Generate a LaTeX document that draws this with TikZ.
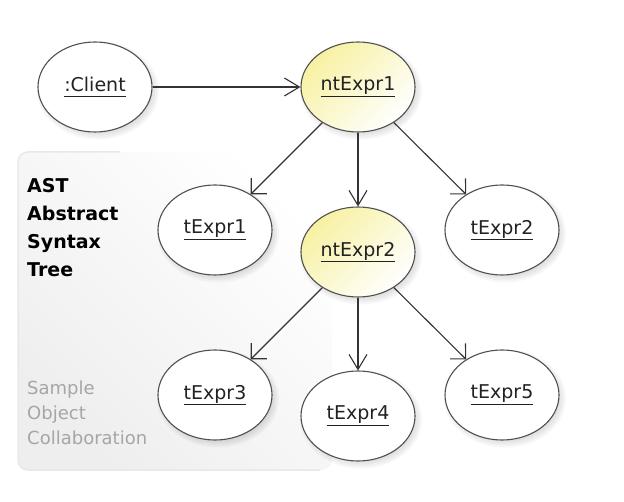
\documentclass[tikz,border=0pt]{standalone}
\usepackage{fontspec}
\setmainfont{DejaVu Sans}
\usetikzlibrary{shapes.geometric,arrows.meta}
\definecolor{edgec}{HTML}{505050}
\definecolor{yel}{HTML}{F7F1A2}
\definecolor{txtc}{HTML}{222222}
\definecolor{subc}{HTML}{A6A6A6}
\definecolor{panelc}{HTML}{EEEEEE}
\definecolor{panelb}{HTML}{E8E8E8}
\definecolor{linec}{HTML}{333333}
\pgfdeclarelayer{bglayer}
\pgfdeclarelayer{shlayer}
\pgfsetlayers{bglayer,shlayer,main}
\begin{document}
\begin{tikzpicture}[x=1pt,y=-1pt,
  obj/.style={ellipse, draw=edgec, line width=1.1pt, minimum width=114pt,
    minimum height=90pt, inner sep=0pt, fill=white, text=txtc,
    font=\fontsize{19}{23}\selectfont},
  hot/.style={obj, top color=yel, bottom color=white, shading angle=45},
  shadowpart/.style={fill=black, opacity=0.03},
  conn/.style={draw=linec, line width=1.1pt},
  diagtip/.style={conn, -{Straight Barb[length=11pt,width=22pt]}},
  strtip/.style={conn, line width=1.4pt, -{Straight Barb[length=15pt,width=18pt,line width=1.1pt]}},
  boldtxt/.style={anchor=base west, inner sep=0pt, text=black, font=\bfseries\fontsize{19}{23}\selectfont},
  greytxt/.style={anchor=base west, inner sep=0pt, text=subc, font=\fontsize{18}{22}\selectfont}
]
\useasboundingbox (0,0) rectangle (624,502);
% panel
\begin{pgfonlayer}{bglayer}
\shade[rounded corners=10pt, shading=axis, top color=white, bottom color=panelc, shading angle=-45]
  (18,152) rectangle (332,470);
\draw[panelb, line width=1.5pt, rounded corners=10pt] (120,152) -- (18,152) -- (18,470) -- (320,470);
\end{pgfonlayer}
% panel texts
\node[boldtxt] (l1) at (27,193) {AST};
\node[boldtxt] (l2) at (27,221) {Abstract};
\node[boldtxt] (l3) at (27,249) {Syntax};
\node[boldtxt] (l4) at (27,277) {Tree};
\node[greytxt] (g1) at (27,395) {Sample};
\node[greytxt] (g2) at (27,420) {Object};
\node[greytxt] (g3) at (27,445) {Collaboration};
% objects
\node[obj] (client) at (95,87) {\underline{:Client\vphantom{p}}};
\node[hot] (nt1) at (358,87) {\underline{ntExpr1}};
\node[obj] (t1) at (215,230) {\underline{tExpr1}};
\node[hot] (nt2) at (358,252) {\underline{ntExpr2}};
\node[obj] (t2) at (502,230) {\underline{tExpr2}};
\node[obj] (t3) at (215,395) {\underline{tExpr3}};
\node[obj] (t4) at (358,416) {\underline{tExpr4}};
\node[obj] (t5) at (502,395) {\underline{tExpr5}};
% soft shadows
\begin{pgfonlayer}{shlayer}
\foreach \n in {client,nt1,t1,nt2,t2,t3,t4,t5}{
  \foreach \r in {-2,0,2,4,6}{
    \fill[shadowpart] ([shift={(3,3.5)}]\n.center) ellipse ({55+\r} and {43+\r});
  }
}
\end{pgfonlayer}
% connectors
\draw[strtip] (client) -- (nt1);
\draw[diagtip] (nt1) -- (t1);
\draw[strtip] (nt1) -- (nt2);
\draw[diagtip] (nt1) -- (t2);
\draw[diagtip] (nt2) -- (t3);
\draw[strtip] (nt2) -- (t4);
\draw[diagtip] (nt2) -- (t5);
\end{tikzpicture}
\end{document}
